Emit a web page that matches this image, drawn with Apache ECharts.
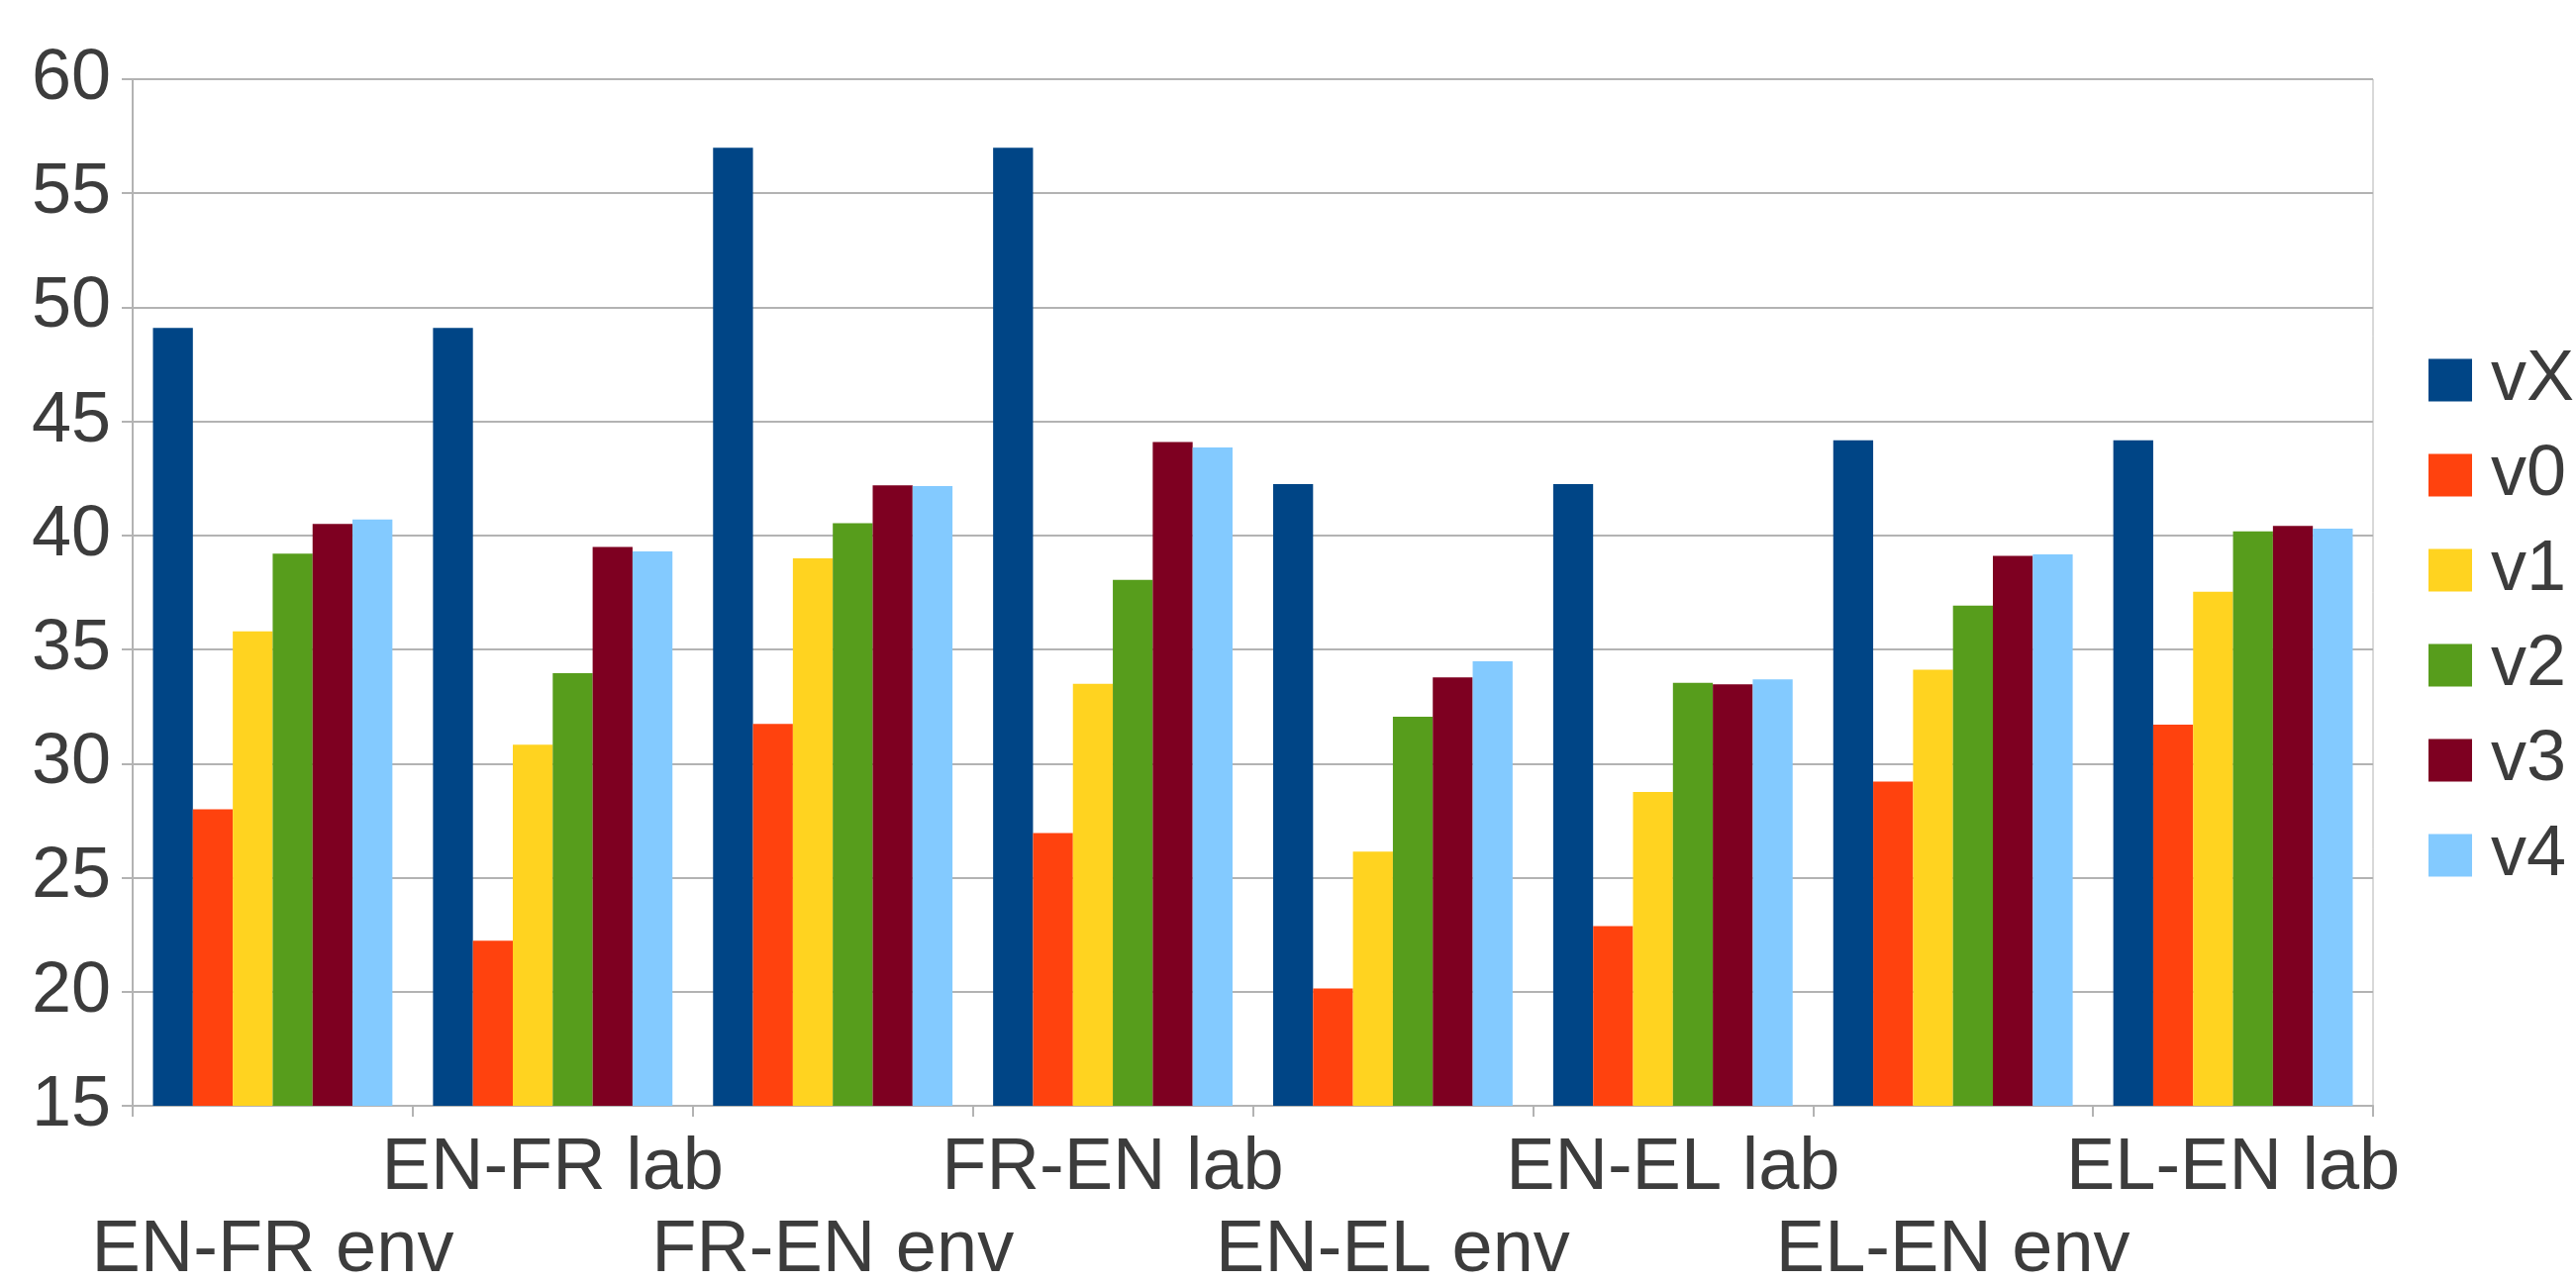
<!DOCTYPE html>
<html>
<head>
<meta charset="utf-8">
<script src="https://cdn.jsdelivr.net/npm/echarts@6/dist/echarts.min.js"></script>
<style>
html,body{margin:0;padding:0;background:#fff;}
#chart{width:2602px;height:1295px;}
</style>
</head>
<body>
<div id="chart"></div>
<script>
const categories = ['EN-FR env','EN-FR lab','FR-EN env','FR-EN lab','EN-EL env','EN-EL lab','EL-EN env','EL-EN lab'];
const seriesNames = ['vX','v0','v1','v2','v3','v4'];
const vX = [49.1, 49.1, 57.0, 57.0, 42.25, 42.25, 44.17, 44.17];
const v0 = [28.0, 22.24, 31.74, 26.96, 20.14, 22.88, 29.21, 31.71];
const v1 = [35.8, 30.83, 39.0, 33.5, 26.14, 28.76, 34.12, 37.53];
const v2 = [39.2, 33.96, 40.54, 38.05, 32.05, 33.54, 36.92, 40.18];
const v3 = [40.5, 39.5, 42.2, 44.1, 33.78, 33.48, 39.11, 40.42];
const v4 = [40.7, 39.3, 42.16, 43.86, 34.48, 33.69, 39.17, 40.3];
const yTicks = {min: 15, max: 60, interval: 5};

const colors = ['#004586','#ff420e','#ffd320','#579d1c','#7e0021','#83caff'];
const values = [vX, v0, v1, v2, v3, v4];
const font = 'Liberation Sans';
const textColor = '#3c3c3c';
const lineColor = '#b3b3b3';

const chart = echarts.init(document.getElementById('chart'), null, {renderer: 'canvas'});
chart.setOption({
  animation: false,
  color: colors,
  grid: {left: 134, top: 80, right: 205, bottom: 178, show: true, borderColor: lineColor, borderWidth: 1,
         backgroundColor: 'transparent', containLabel: false, outerBoundsMode: 'none'},
  legend: {
    orient: 'vertical',
    left: 2453, top: 348,
    padding: 0,
    itemWidth: 44, itemHeight: 43, itemGap: 24,
    icon: 'rect',
    textStyle: {fontFamily: font, fontSize: 72, color: textColor, lineHeight: 72, padding: [0,0,0,14]},
    data: seriesNames
  },
  xAxis: {
    type: 'category',
    data: categories,
    axisLine: {lineStyle: {color: lineColor, width: 2}},
    axisTick: {show: true, length: 11, lineStyle: {color: lineColor, width: 2}},
    axisLabel: {
      interval: 0,
      fontFamily: font, fontSize: 74, color: textColor,
      lineHeight: 83, margin: 22, verticalAlign: 'top',
      formatter: (v, i) => (i % 2 === 0 ? '\n' + v : v)
    },
    splitLine: {show: false}
  },
  yAxis: {
    type: 'value',
    min: yTicks.min, max: yTicks.max, interval: yTicks.interval,
    axisLine: {show: true, lineStyle: {color: lineColor, width: 2}},
    axisTick: {show: true, length: 11, lineStyle: {color: lineColor, width: 2}},
    axisLabel: {fontFamily: font, fontSize: 72, color: textColor, margin: 22},
    splitLine: {show: true, lineStyle: {color: lineColor, width: 2}}
  },
  series: seriesNames.map((n, k) => ({
    name: n,
    type: 'bar',
    data: values[k],
    barGap: '0%',
    barCategoryGap: '14.5%',
    itemStyle: {color: colors[k]}
  }))
});
</script>
</body>
</html>
